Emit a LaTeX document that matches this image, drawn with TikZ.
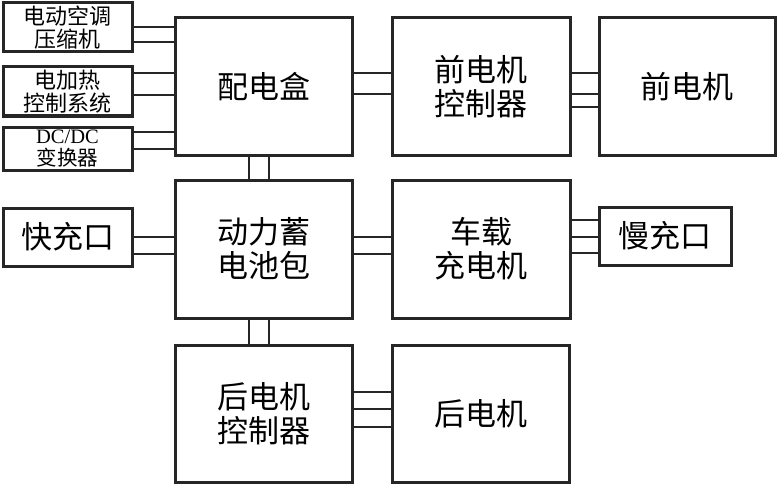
\documentclass[tikz,border=0pt]{standalone}
\usepackage{fontspec}
\newfontfamily\cjk{Noto Sans CJK SC}
\newfontfamily\lat{Liberation Serif}
\begin{document}
\begin{tikzpicture}[x=1pt,y=-1pt,
  box/.style={draw=black!85,line width=3pt,fill=white,inner sep=0pt,outer sep=0pt,align=center,font=\cjk},
  bigtxt/.style={font={\cjk\fontsize{31}{34}\selectfont}},
  smalltxt/.style={font={\cjk\fontsize{22}{22.5}\selectfont}},
  wire/.style={draw=black!85,line width=1.3pt}]
\useasboundingbox (0,0) rectangle (778,484);
% helper coordinates for wire levels
\foreach \n/\v in {a/27,b/42,c/73,d/95,e/132,f/149,g/94,h/107,i/237,j/254,k/220,l/253,m/392,n/409,o/427}
  \coordinate (y\n) at (0,\v);
\coordinate (xa) at (249,0);
\coordinate (xb) at (269,0);
% boxes
\node[box,smalltxt,minimum width=129pt,minimum height=49pt] (ac) at (67.5,27.5) {电动空调\\压缩机};
\node[box,smalltxt,minimum width=129pt,minimum height=49pt] (heat) at (67.5,91.5) {电加热\\控制系统};
\node[box,minimum width=129pt,minimum height=43pt,font={\cjk\fontsize{20.5}{21.5}\selectfont}] (dcdc) at (67.5,148.5) {{\lat DC/DC}\\变换器};
\node[box,bigtxt,minimum width=177pt,minimum height=137pt] (pdh) at (263.5,86.5) {配电盒};
\node[box,bigtxt,minimum width=178pt,minimum height=137pt] (fmc) at (481,86.5) {前电机\\控制器};
\node[box,bigtxt,minimum width=176pt,minimum height=137pt] (fm) at (687,86.5) {前电机};
\node[box,bigtxt,minimum width=129pt,minimum height=58pt] (fast) at (67.5,237) {快充口};
\node[box,bigtxt,minimum width=177pt,minimum height=138pt] (bat) at (263.5,249) {动力蓄\\电池包};
\node[box,bigtxt,minimum width=178pt,minimum height=138pt] (obc) at (481,249) {车载\\充电机};
\node[box,bigtxt,minimum width=132pt,minimum height=58pt] (slow) at (665,236) {慢充口};
\node[box,bigtxt,minimum width=177pt,minimum height=137pt] (rmc) at (263.5,413.5) {后电机\\控制器};
\node[box,bigtxt,minimum width=177pt,minimum height=137pt] (rm) at (480.5,413.5) {后电机};
% wires
\draw[wire] (ac.east |- ya) -- (pdh.west |- ya);
\draw[wire] (ac.east |- yb) -- (pdh.west |- yb);
\draw[wire] (heat.east |- yc) -- (pdh.west |- yc);
\draw[wire] (heat.east |- yd) -- (pdh.west |- yd);
\draw[wire] (dcdc.east |- ye) -- (pdh.west |- ye);
\draw[wire] (dcdc.east |- yf) -- (pdh.west |- yf);
\draw[wire] (pdh.east |- yc) -- (fmc.west |- yc);
\draw[wire] (pdh.east |- yg) -- (fmc.west |- yg);
\draw[wire] (fmc.east |- yc) -- (fm.west |- yc);
\draw[wire] (fmc.east |- yg) -- (fm.west |- yg);
\draw[wire] (fmc.east |- yh) -- (fm.west |- yh);
\draw[wire] (pdh.south -| xa) -- (bat.north -| xa);
\draw[wire] (pdh.south -| xb) -- (bat.north -| xb);
\draw[wire] (bat.south -| xa) -- (rmc.north -| xa);
\draw[wire] (bat.south -| xb) -- (rmc.north -| xb);
\draw[wire] (fast.east |- yi) -- (bat.west |- yi);
\draw[wire] (fast.east |- yj) -- (bat.west |- yj);
\draw[wire] (bat.east |- yi) -- (obc.west |- yi);
\draw[wire] (bat.east |- yj) -- (obc.west |- yj);
\draw[wire] (obc.east |- yk) -- (slow.west |- yk);
\draw[wire] (obc.east |- yi) -- (slow.west |- yi);
\draw[wire] (obc.east |- yl) -- (slow.west |- yl);
\draw[wire] (rmc.east |- ym) -- (rm.west |- ym);
\draw[wire] (rmc.east |- yn) -- (rm.west |- yn);
\draw[wire] (rmc.east |- yo) -- (rm.west |- yo);
\end{tikzpicture}
\end{document}
